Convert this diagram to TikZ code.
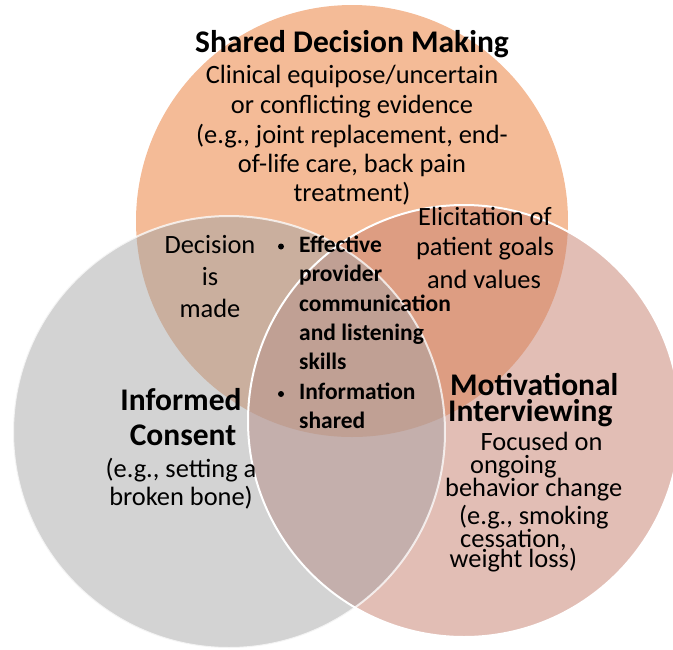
\documentclass[tikz,border=0pt]{standalone}
\usepackage{fontspec}
\setmainfont{Carlito}
\definecolor{cO}{RGB}{244,187,151}
\definecolor{cG}{RGB}{211,211,211}
\definecolor{cP}{RGB}{226,190,181}
\definecolor{cTL}{RGB}{202,175,158}
\definecolor{cTR}{RGB}{221,157,130}
\definecolor{cLR}{RGB}{196,175,172}
\definecolor{cC}{RGB}{192,160,148}
\tikzset{
  reg/.style={font=\fontsize{26.4}{30}\selectfont, inner sep=0pt, anchor=base},
  regl/.style={reg, anchor=base west},
  hd/.style={font=\fontsize{31.5}{34}\selectfont\bfseries, inner sep=0pt, anchor=base},
  hdl/.style={hd, anchor=base west},
  blt/.style={font=\fontsize{23.5}{28}\selectfont\bfseries, inner sep=0pt, anchor=base west},
  dot/.style={circle, fill=black, inner sep=0pt, minimum size=6pt},
  rim/.style={draw=white, line width=2pt},
  rr/.style={radius=216pt}
}
\begin{document}
\begin{tikzpicture}[x=1pt, y=-1pt]
\useasboundingbox (0,0) rectangle (673,649);
\clip (0,0) rectangle (673,649);
\coordinate (T) at (352,221);
\coordinate (L) at (229,432);
\coordinate (R) at (464,421);
% base fills
\fill[cO] (T) circle[rr];
\fill[cG] (L) circle[rr];
\fill[cP] (R) circle[rr];
% pairwise overlaps
\begin{scope}
  \clip (T) circle[rr];
  \fill[cTL] (L) circle[rr];
  \fill[cTR] (R) circle[rr];
\end{scope}
\begin{scope}
  \clip (L) circle[rr];
  \fill[cLR] (R) circle[rr];
  \clip (T) circle[rr];
  \fill[cC] (R) circle[rr];
\end{scope}
% white rims
\draw[rim, draw opacity=0.75] (L) circle[rr];
\draw[rim] (R) circle[rr];
% Shared Decision Making
\node[hd] (sdm) at (352,52.5) {Shared Decision Making};
\node[reg] (sdm1) at (352,83) {Clinical equipose/uncertain};
\node[reg] (sdm2) at (352,113) {or conflicting evidence};
\node[reg] (sdm3) at (352,143) {(e.g., joint replacement, end-};
\node[reg] (sdm4) at (352,172) {of-life care, back pain};
\node[reg] (sdm5) at (352,201) {treatment)};
% Elicitation
\node[reg] (eli1) at (485,225) {Elicitation of};
\node[reg] (eli2) at (485,255) {patient goals};
\node[reg] (eli3) at (484,288.5) {and values};
% Decision is made
\node[reg] (dec1) at (210,253) {Decision};
\node[reg] (dec2) at (210,285.5) {is};
\node[reg] (dec3) at (210,317) {made};
% bullets
\node[dot] (bul1) at (281,246.5) {};
\node[dot] (bul2) at (281,394) {};
\node[blt] (b1) at (299,252.7) {Effective};
\node[blt] (b2) at (299,281.7) {provider};
\node[blt] (b3) at (299,311.3) {communication};
\node[blt] (b4) at (299,340.5) {and listening};
\node[blt] (b5) at (299,369.5) {skills};
\node[blt] (b6) at (299,399.5) {Information};
\node[blt] (b7) at (299,428.5) {shared};
% Informed Consent
\node[hd] (ic1) at (181,410) {Informed};
\node[hd] (ic2) at (183,445) {Consent};
\node[reg] (ic3) at (181,477) {(e.g., setting a};
\node[reg] (ic4) at (181,505.5) {broken bone)};
% Motivational Interviewing
\node[hdl] (mi1) at (450,395) {Motivational};
\node[hdl] (mi2) at (448,421.5) {Interviewing};
\node[regl] (mi3) at (480.5,450.5) {Focused on};
\node[regl] (mi4) at (470,473) {ongoing};
\node[regl] (mi5) at (445,496) {behavior change};
\node[regl] (mi6) at (459,524) {(e.g., smoking};
\node[regl] (mi7) at (460,547.5) {cessation,};
\node[regl] (mi8) at (449.5,567) {weight loss)};
\end{tikzpicture}
\end{document}
